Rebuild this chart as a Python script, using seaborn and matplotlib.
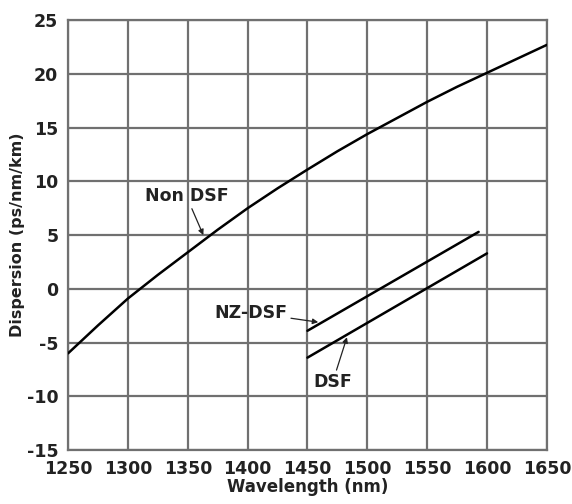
import matplotlib
matplotlib.use("Agg")
import matplotlib.pyplot as plt
import seaborn as sns
import pandas as pd

# Data
nondsf_wl = [1250, 1275, 1300, 1325, 1350, 1375, 1400, 1425, 1450,
             1475, 1500, 1525, 1550, 1575, 1600, 1625, 1650]
nondsf_disp = [-6.0, -3.4, -0.9, 1.3, 3.4, 5.5, 7.5, 9.35, 11.1,
               12.8, 14.4, 15.9, 17.4, 18.8, 20.1, 21.4, 22.7]
nzdsf_wl = [1450, 1593]
nzdsf_disp = [-3.9, 5.3]
dsf_wl = [1450, 1600]
dsf_disp = [-6.4, 3.3]

x_ticks = [1250, 1300, 1350, 1400, 1450, 1500, 1550, 1600, 1650]
y_ticks = [-15, -10, -5, 0, 5, 10, 15, 20, 25]

df = pd.concat([
    pd.DataFrame({"wl": nondsf_wl, "disp": nondsf_disp, "fiber": "Non DSF"}),
    pd.DataFrame({"wl": nzdsf_wl, "disp": nzdsf_disp, "fiber": "NZ-DSF"}),
    pd.DataFrame({"wl": dsf_wl, "disp": dsf_disp, "fiber": "DSF"}),
])

sns.set_style("white")
plt.rcParams["font.family"] = ["DejaVu Sans"]
plt.rcParams["font.weight"] = "bold"

fig = plt.figure(figsize=(5.72, 5.04), dpi=100)
ax = fig.add_axes([0.119, 0.107, 0.837, 0.853])

sns.lineplot(data=df, x="wl", y="disp", hue="fiber", units="fiber",
             estimator=None, palette={"Non DSF": "black", "NZ-DSF": "black", "DSF": "black"},
             linewidth=1.8, legend=False, ax=ax, sort=False, zorder=3)

ax.set_xlim(1250, 1650)
ax.set_ylim(-15, 25)
ax.set_xticks(x_ticks)
ax.set_yticks(y_ticks)
ax.set_xticklabels([str(v) for v in x_ticks], fontsize=12.5, fontweight="bold")
ax.set_yticklabels([str(v) for v in y_ticks], fontsize=12.5, fontweight="bold")
gridc = "#707070"
ax.grid(True, color=gridc, linewidth=1.6)
for s in ax.spines.values():
    s.set_color(gridc)
    s.set_linewidth(1.6)
ax.tick_params(axis="both", direction="out", length=3, width=1.4, color=gridc, pad=4, labelcolor="#222222")

ax.set_xlabel("Wavelength (nm)", fontsize=12, fontweight="bold", color="#222222", labelpad=0)
ax.set_ylabel("Dispersion (ps/nm/km)", fontsize=11.5, fontweight="bold", color="#222222", labelpad=1)

arrowprops = dict(arrowstyle="-|>", color="#222222", lw=0.9, mutation_scale=8, shrinkA=0, shrinkB=0)
ax.annotate("Non DSF", xy=(1363, 5.0), xytext=(1349, 8.6), ha="center", va="center",
            fontsize=12.5, fontweight="bold", color="#222222", arrowprops=arrowprops, zorder=4)
ax.annotate("NZ-DSF", xy=(1459, -3.1), xytext=(1403, -2.2), ha="center", va="center",
            fontsize=12.5, fontweight="bold", color="#222222", arrowprops=arrowprops, zorder=4)
ax.annotate("DSF", xy=(1483, -4.5), xytext=(1471, -8.7), ha="center", va="center",
            fontsize=12.5, fontweight="bold", color="#222222", arrowprops=arrowprops, zorder=4)

fig.savefig("out.png", dpi=100)
